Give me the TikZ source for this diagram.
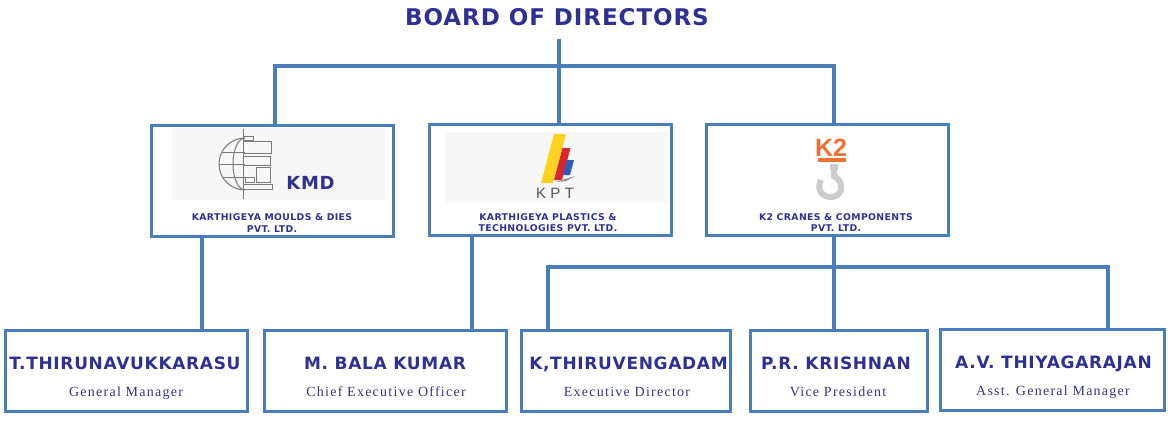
\documentclass[tikz,border=0pt]{standalone}
\usepackage{fontspec}
\usepackage{xcolor}
\usepackage{tikz}
\usetikzlibrary{positioning}
\newfontfamily\namefont[LetterSpace=4]{DejaVu Sans}
\newfontfamily\rolefont[LetterSpace=9]{Liberation Serif}
\newfontfamily\markfont{Liberation Sans}
\definecolor{wire}{HTML}{4A7EBB}
\definecolor{ink}{HTML}{2E3192}
\definecolor{roleink}{HTML}{33338A}
\definecolor{kmdgray}{HTML}{7A7A7A}
\definecolor{kptyellow}{HTML}{FFD21F}
\definecolor{kptred}{HTML}{D7262F}
\definecolor{kptblue}{HTML}{2F5DB5}
\definecolor{kptgray}{HTML}{555555}
\definecolor{k2orange}{HTML}{EE7132}
\definecolor{hookgray}{HTML}{CCCCCC}
\tikzstyle{link} = [draw=wire, line width=4pt]
\tikzstyle{firm} = [rectangle, draw=wire, line width=3pt, minimum width=242pt, minimum height=111pt, inner sep=0pt]
\tikzstyle{post} = [rectangle, draw=wire, line width=3pt, minimum height=81pt, inner sep=0pt]
\tikzstyle{head} = [anchor=base, text=ink, inner ysep=13pt, font=\namefont\bfseries\fontsize{23}{26}\selectfont]
\tikzstyle{firmname} = [align=center, text=ink, font=\namefont\bfseries\fontsize{9.3}{11.5}\selectfont]
\tikzstyle{person} = [anchor=base, text=ink, font=\namefont\bfseries\fontsize{17}{20}\selectfont]
\tikzstyle{duty} = [anchor=base, text=roleink, font=\rolefont\fontsize{14}{16}\selectfont]
\tikzstyle{logoline} = [draw=kmdgray, line width=1pt]

\begin{document}
\begin{tikzpicture}[x=1pt, y=-1pt]
\useasboundingbox (0,0) rectangle (1171,426);
\node [head] (board) at (557,25) {BOARD OF DIRECTORS};
\coordinate (top) at (559,66);
\coordinate (crane) at (834,267);

% companies
\node [firm] (kmd) at (272,180.5) {};
\node [firm] (kpt) at (550.5,180) {};
\node [firm] (k2) at (827.5,180) {};

\fill [black!3] (172,128) rectangle (385,200);
\fill [black!3] (445,132) rectangle (667,202);

\draw [logoline] (243,129) -- (243,199);
\draw [logoline] (245,138) arc [start angle=-90, end angle=-270, radius=26];
\draw [logoline] (245,138) arc [start angle=-90, end angle=-270, x radius=12, y radius=26];
\draw [logoline] (222,152) -- (245,152);
\draw [logoline] (219,164) -- (245,164);
\draw [logoline] (222,177) -- (245,177);
\draw [logoline] (243,136) rectangle (253,140);
\draw [logoline] (243,141) rectangle (271,153);
\draw [logoline] (243,156) rectangle (270,165);
\draw [logoline] (256,167) rectangle (270,182);
\draw [logoline] (245,177) rectangle (254,182);
\draw [logoline] (243,184) rectangle (272,189);
\node [anchor=base, text=ink, font=\namefont\bfseries\fontsize{18}{20}\selectfont] (kmdmark) at (310.5,189) {KMD};

\fill [kptyellow] (541,183) -- (553,183) -- (566,134) -- (554,134) -- cycle;
\fill [kptred] (554,180) -- (562,180) -- (570.5,148) -- (562.5,148) -- cycle;
\fill [kptblue] (563,175) -- (570,175) -- (574,160) -- (567,160) -- cycle;
\fill [kptgray!70] (556,182) -- (575,176) -- (566,181) -- cycle;
\node [anchor=base, text=kptgray, font=\markfont\fontsize{15}{17}\selectfont\addfontfeatures{LetterSpace=29}] (kptmark) at (555,198) {KPT};

\node [anchor=base, text=k2orange, font=\markfont\bfseries\fontsize{25}{28}\selectfont] (k2mark) at (831,156) {K2};
\fill [k2orange] (818,158) rectangle (846,162);
\fill [hookgray] (830,164) rectangle (838,170);
\draw [hookgray, line width=6pt] (834,166) -- (834,176) .. controls (846,183) and (842,198) .. (830,197) .. controls (820,196) and (817,188) .. (821,180);

\node [firmname] (kmdname) at (272,223) {KARTHIGEYA MOULDS \& DIES\\PVT. LTD.};
\node [firmname] (kptname) at (548,222.5) {KARTHIGEYA PLASTICS \&\\TECHNOLOGIES PVT. LTD.};
\node [firmname] (k2name) at (836,222.5) {K2 CRANES \& COMPONENTS\\PVT. LTD.};

% people
\node [post, minimum width=242pt] (tthiru) at (126.5,371) {};
\node [post, minimum width=242pt] (mbala) at (385.5,371) {};
\node [post, minimum width=209pt] (kthiru) at (626,371) {};
\node [post, minimum width=177pt] (prk) at (839,371) {};
\node [post, minimum width=224pt] (thiya) at (1052.5,370) {};

\node [person] (tthiruname) at (125,369) {T.THIRUNAVUKKARASU};
\node [duty] (tthirurole) at (126,396) {General Manager};
\node [person] (mbalaname) at (385,369) {M. BALA KUMAR};
\node [duty] (mbalarole) at (386,396) {Chief Executive Officer};
\node [person] (kthiruname) at (628.5,369) {K,THIRUVENGADAM};
\node [duty] (kthirurole) at (627,396) {Executive Director};
\node [person] (prkname) at (836,369) {P.R. KRISHNAN};
\node [duty] (prkrole) at (838,396) {Vice President};
\node [person] (thiyaname) at (1053.5,368) {A.V. THIYAGARAJAN};
\node [duty] (thiyarole) at (1053,395) {Asst. General Manager};

% connectors
\coordinate (kmdleg) at ([xshift=-70pt]kmd.south);
\coordinate (kptleg) at ([xshift=-78.5pt]kpt.south);
\coordinate (kthiruleg) at ([xshift=-78pt]kthiru.north);
\coordinate (thiyaleg) at ([xshift=55.5pt]thiya.north);
\draw [link] (board.south -| top) -- (top);
\draw [link] ([xshift=3pt]kmd.north) |- (top) -| ([xshift=6pt]k2.north);
\draw [link] (top) -- (top |- kpt.north);
\draw [link] (kmdleg) -- (kmdleg |- tthiru.north);
\draw [link] (kptleg) -- (kptleg |- mbala.north);
\draw [link] (crane |- k2.south) -- (crane |- prk.north);
\draw [link] (kthiruleg) |- (crane) -| (thiyaleg);
\end{tikzpicture}
\end{document}
